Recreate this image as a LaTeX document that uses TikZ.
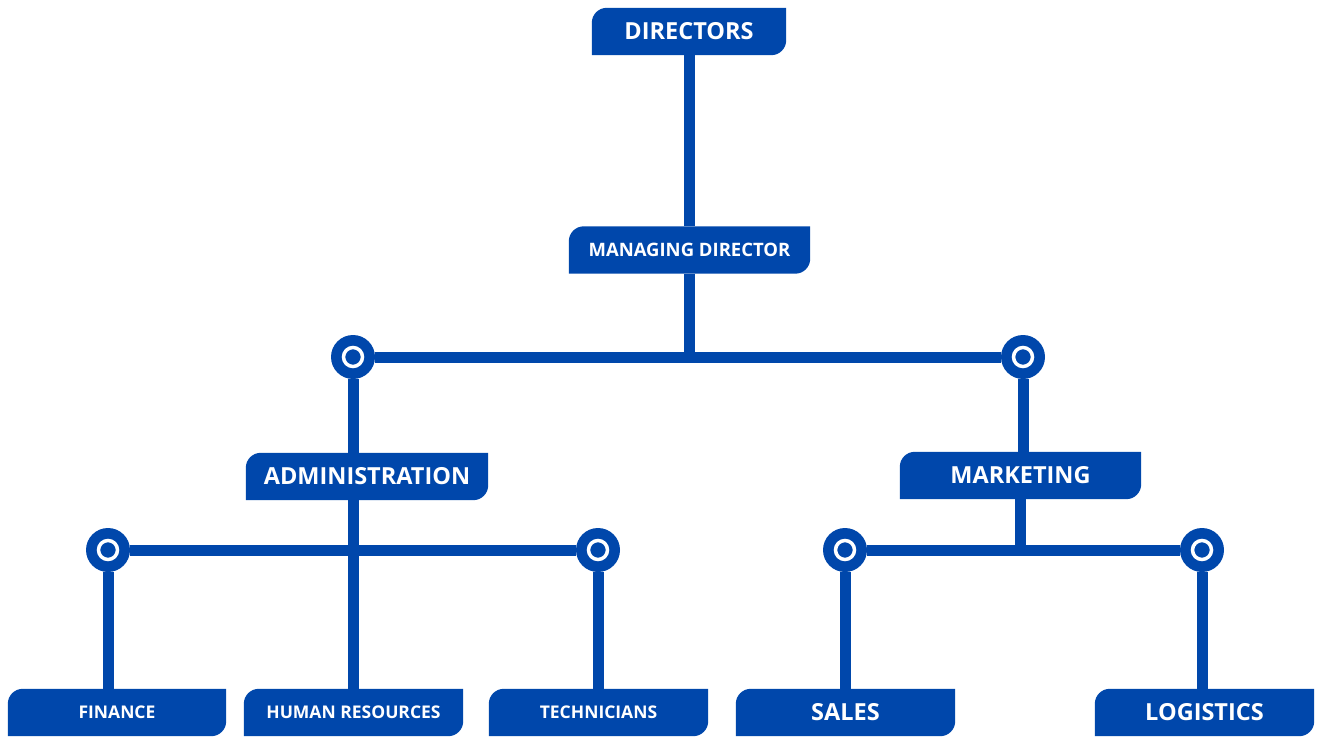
\documentclass[tikz,border=0pt]{standalone}
\usepackage{fontspec}
\setmainfont{Open Sans}
\usepackage{tikz}
\usetikzlibrary{calc,backgrounds}
\definecolor{orgblue}{RGB}{0,71,171}
\tikzset{
  unit/.style={inner sep=0pt, minimum height=47pt, text=white},
  big/.style={font=\bfseries\fontsize{23.5}{26}\selectfont},
  mid/.style={font=\bfseries\fontsize{18.5}{21}\selectfont},
  small/.style={font=\bfseries\fontsize{17.5}{20}\selectfont},
  link/.style={draw=orgblue, line width=11pt},
  hub/.style={circle, fill=orgblue, minimum size=44pt, inner sep=0pt,
    path picture={\draw[white, line width=3.5pt] (path picture bounding box.center) circle (9.5pt);}},
}

\begin{document}
\begin{tikzpicture}[x=1pt,y=1pt,yscale=-1,xscale=1]
\useasboundingbox (0,0) rectangle (1319,738);

% boxes
\node[unit, big, minimum width=194pt] (dir) at (689,31.5) {DIRECTORS};
\node[unit, mid, minimum width=241pt] (md) at (689.5,250) {MANAGING DIRECTOR};
\node[unit, big, minimum width=242pt] (adm) at (367,476.5) {ADMINISTRATION};
\node[unit, big, minimum width=241pt] (mkt) at (1020.5,475.5) {MARKETING};
\node[unit, small, minimum width=218pt] (fin) at (117,712.5) {FINANCE};
\node[unit, small, minimum width=219pt] (hr) at (353.5,712.5) {HUMAN RESOURCES};
\node[unit, small, minimum width=219pt] (tec) at (598.5,712.5) {TECHNICIANS};
\node[unit, big, minimum width=219pt] (sal) at (845.5,712.5) {SALES};
\node[unit, big, minimum width=219pt] (log) at (1204.5,712.5) {LOGISTICS};

% junctions
\node[hub] (ha) at (353,357) {};
\node[hub] (hm) at (1023,357) {};
\node[hub] (hf) at (108,550) {};
\node[hub] (ht) at (598,550) {};
\node[hub] (hs) at (845,550) {};
\node[hub] (hl) at (1202,550) {};

\coordinate (mdj) at (md |- ha);
\coordinate (mktj) at (mkt |- hs);

\begin{scope}[on background layer]
% connectors
\draw[link] (dir) -- (dir |- md.north);
\draw[link] (md) -- (mdj);
\draw[link] (ha) -- (hm);
\draw[link] (ha) -- (ha |- hr.north);
\draw[link] (hf) -- (ht);
\draw[link] (hf) -- (hf |- fin.north);
\draw[link] (ht) -- (ht |- tec.north);
\draw[link] (hm) -- (hm |- mkt.north);
\draw[link] (mkt) -- (mktj);
\draw[link] (hs) -- (hl);
\draw[link] (hs) -- (hs |- sal.north);
\draw[link] (hl) -- (hl |- log.north);
% box shapes
\foreach \n in {dir,md,adm,mkt,fin,hr,tec,sal,log}
  \fill[orgblue] (\n.south west) -- ($(\n.north west)+(0,15)$)
    arc[start angle=180, end angle=270, radius=15] -- (\n.north east)
    -- ($(\n.south east)+(0,-15)$) arc[start angle=0, end angle=90, radius=15] -- cycle;
\end{scope}

\end{tikzpicture}
\end{document}
